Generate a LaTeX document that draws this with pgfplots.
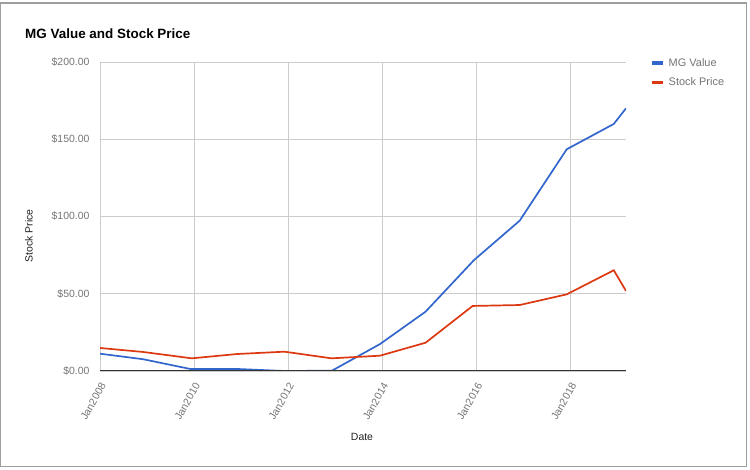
\documentclass[border=0pt]{standalone}
\usepackage{pgfplots}
\pgfplotsset{compat=1.18}
\usepackage{fontspec}
\setmainfont{Liberation Sans}
\definecolor{gblue}{HTML}{3366CC}
\definecolor{gred}{HTML}{DC3912}
\definecolor{tgray}{HTML}{757575}
\definecolor{dgray}{HTML}{222222}
\definecolor{grid}{HTML}{CCCCCC}
\definecolor{frame}{HTML}{9E9E9E}
\begin{document}
\begin{tikzpicture}[x=1bp,y=1bp]
\fill[white] (0,0) rectangle (750,470);
\draw[frame, line width=1.2bp] (0.6,3.8) rectangle (746.4,467);
\node[anchor=west, font=\fontsize{13.5}{15}\selectfont\bfseries, text=black, inner sep=0] at (25,436) {MG Value and Stock Price};
\node[font=\fontsize{10.5}{12}\selectfont, text=dgray, inner sep=0] at (362,33) {Date};
\node[font=\fontsize{10.5}{12}\selectfont, text=dgray, inner sep=0, rotate=90] at (29,234) {Stock Price};
\begin{axis}[
  at={(100bp,99bp)}, anchor=south west,
  scale only axis, width=526bp, height=309bp,
  xmin=2008, xmax=2019.18, ymin=0, ymax=200,
  axis line style={draw=none},
  tick style={draw=none},
  xtick={2008,2010,2012,2014,2016,2018},
  xticklabels={Jan2008,Jan2010,Jan2012,Jan2014,Jan2016,Jan2018},
  ytick={0,50,100,150,200},
  yticklabels={\$0.00,\$50.00,\$100.00,\$150.00,\$200.00},
  grid=major,
  major grid style={color=grid, line width=0.8bp},
  yticklabel style={font=\fontsize{10.5}{12}\selectfont, text=tgray, xshift=-7bp},
  xticklabel style={font=\fontsize{10.5}{12}\selectfont, text=tgray, yshift=-10bp, xshift=5bp, rotate=60, anchor=east},
  legend style={draw=none, fill=none, at={(1,1)}, anchor=north west, xshift=24bp, yshift=6bp,
    inner sep=0pt, row sep=6bp, font=\fontsize{11}{12}\selectfont, text=tgray, legend cell align=left,
    nodes={inner xsep=4bp}},
  legend image code/.code={\draw[line width=3.5bp, #1] (0bp,0bp) -- (11bp,0bp);},
]
\addplot[gblue, line width=1.7bp] coordinates {
(2008.00,11.2) (2008.92,7.6) (2009.92,1.3) (2010.92,1.3) (2011.92,0.0) (2012.93,0.2)
(2013.95,17.4) (2014.92,38.4) (2015.95,71.8) (2016.92,97.3) (2017.92,143.5) (2018.92,159.9) (2019.18,170.0)};
\addlegendentry{MG Value}
\addplot[gred, line width=1.7bp] coordinates {
(2008.00,14.9) (2008.92,12.3) (2009.95,8.2) (2010.92,11.0) (2011.92,12.5) (2012.92,8.2)
(2013.95,9.9) (2014.92,18.3) (2015.92,42.1) (2016.92,42.7) (2017.92,49.6) (2018.92,65.2) (2019.18,51.8)};
\addlegendentry{Stock Price}
\draw[color={rgb,255:red,51;green,51;blue,51}, line width=1bp] (axis cs:2008,0) -- (axis cs:2019.18,0);
\end{axis}
\end{tikzpicture}
\end{document}
